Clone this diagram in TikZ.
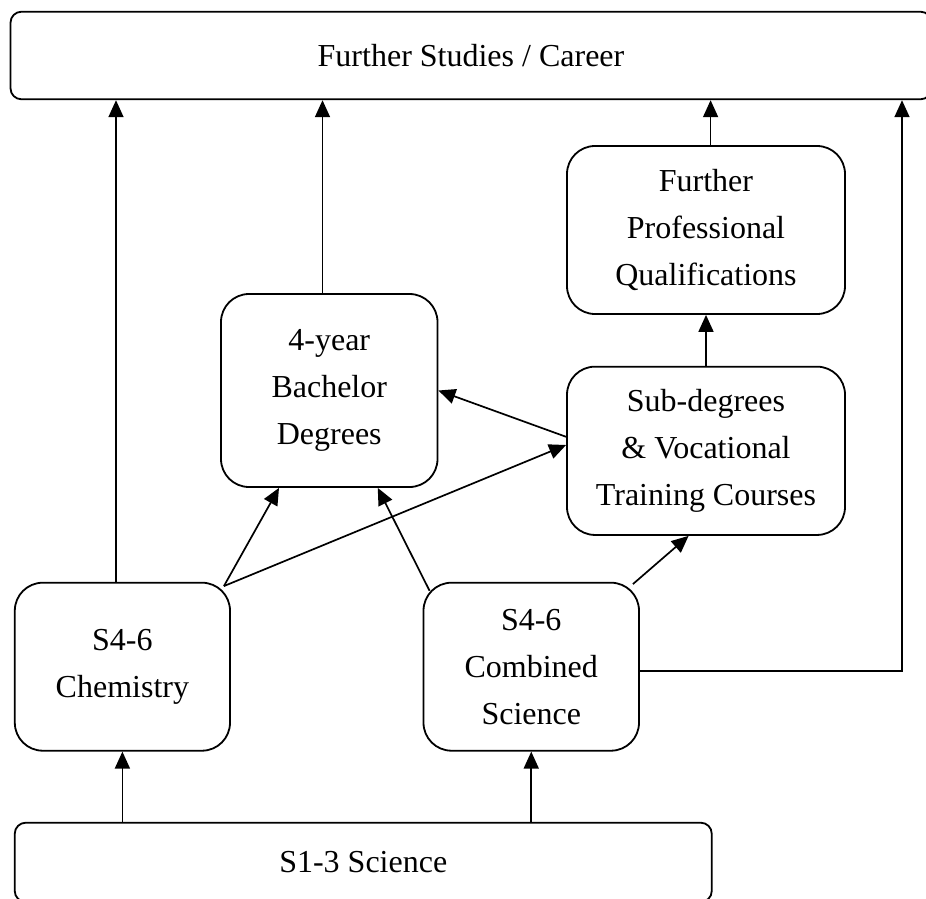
\documentclass[tikz,border=0pt]{standalone}
\usepackage{fontspec}
\setmainfont{Liberation Serif}
\usetikzlibrary{arrows.meta}
\begin{document}
\begin{tikzpicture}[x=1pt,y=-1pt,
  box/.style={draw, line width=1.8pt, rounded corners=28pt, align=center, inner sep=0pt,
    font=\fontsize{32}{47}\selectfont},
  bigbox/.style={box, rounded corners=11pt},
  arr/.style={line width=1.7pt, -{Triangle[length=17pt,width=15pt]}}]
\useasboundingbox (0,0) rectangle (926,899);
\node[bigbox, minimum width=921pt, minimum height=87.6pt] (top) at (471,55.5) {Further Studies / Career};
\node[box, minimum width=278pt, minimum height=168pt] (fpq) at (706,230) {Further\\Professional\\Qualifications};
\node[box, minimum width=216.5pt, minimum height=193pt] (bach) at (329.25,390.5) {4-year\\Bachelor\\Degrees};
\node[box, minimum width=278pt, minimum height=168.3pt] (sub) at (706,450.8) {Sub-degrees\\\&\ Vocational\\Training Courses};
\node[box, minimum width=215.2pt, minimum height=168pt] (chem) at (122.4,666.7) {S4-6\\Chemistry};
\node[box, minimum width=215.5pt, minimum height=168pt] (comb) at (531.25,666.7) {S4-6\\Combined\\Science};
\node[bigbox, minimum width=697pt, minimum height=79.3pt] (s13) at (363.25,862.35) {S1-3 Science};

\draw[arr] ([xshift=-6.4pt]chem.north) -- ([xshift=-6.4pt]chem.north |- top.south);
\draw[arr] ([xshift=-6.75pt]bach.north) -- ([xshift=-6.75pt]bach.north |- top.south);
\draw[arr] ([xshift=4.6pt]fpq.north) -- ([xshift=4.6pt]fpq.north |- top.south);
\draw[arr] ([shift={(0,4.3)}]comb.east) -| ([xshift=431pt]top.south);
\draw[arr] (s13.north -| chem) -- (chem.south);
\draw[arr] (s13.north -| comb) -- (comb.south);
\draw[arr] (sub.north) -- (fpq.south);
\draw[arr] ([shift={(-7,4.3)}]chem.north east) -- ([xshift=-50.25pt]bach.south);
\draw[arr] ([shift={(-7,4.3)}]chem.north east) -- ([shift={(0,-5.8)}]sub.west);
\draw[arr] ([shift={(7,9)}]comb.north west) -- ([xshift=48.5pt]bach.south);
\draw[arr] ([shift={(-7,2.3)}]comb.north east) -- ([xshift=-17.4pt]sub.south);
\draw[arr] ([shift={(0,-14)}]sub.west) -- (bach.east);
\end{tikzpicture}
\end{document}
